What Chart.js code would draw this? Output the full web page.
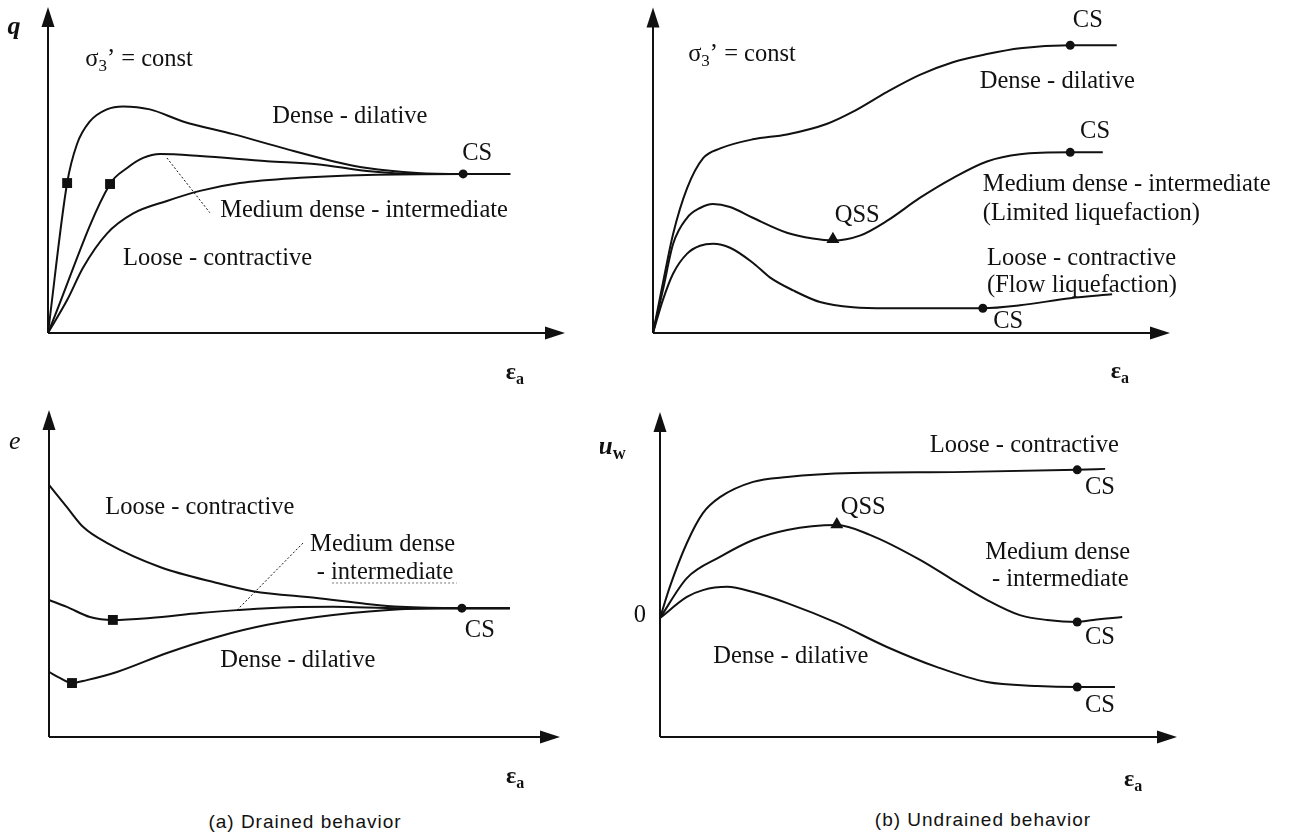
<!DOCTYPE html>
<html>
<head>
<meta charset="utf-8">
<script src="https://cdn.jsdelivr.net/npm/chart.js@4.4.1/dist/chart.umd.min.js"></script>
<style>
  body { margin: 0; background: #fff; width: 1290px; height: 840px; position: relative; overflow: hidden; }
  .panel { position: absolute; }
  .caption { position: absolute; font: 19px "Liberation Sans", Arial, sans-serif; letter-spacing: 1px; color: #111;
             transform: translate(-50%, -50%); white-space: nowrap; }
</style>
</head>
<body>
<div class="panel" style="left:0;top:0"><canvas id="drained-q" width="620" height="395"></canvas></div>
<div class="panel" style="left:620px;top:0"><canvas id="undrained-q" width="670" height="395"></canvas></div>
<div class="panel" style="left:0;top:400px"><canvas id="drained-e" width="620" height="395"></canvas></div>
<div class="panel" style="left:600px;top:400px"><canvas id="undrained-u" width="690" height="395"></canvas></div>
<div class="caption" style="left:305px;top:822px">(a) Drained behavior</div>
<div class="caption" style="left:983px;top:820px">(b) Undrained behavior</div>

<script>
// Schematic values, axial strain 0-100 (x) vs. response 0-100 (y)

// (a) drained: deviator stress q
const drainedQDense = [[0,0],[3.7,46.0],[5.6,57.9],[8.1,64.9],[11.4,68.6],[14.5,69.5],[19.7,68.6],[26.1,64.9],
  [35.8,61.0],[45.5,56.7],[55.1,52.7],[61.7,50.6],[71.4,49.1],[80.3,48.8],[89.4,48.8]];
const drainedQMedium = [[0,0],[12.0,45.7],[15.3,50.6],[18.4,53.7],[21.7,54.9],[29.4,54.3],[42.4,52.7],[52.0,51.8],
  [61.7,49.7],[71.4,48.8],[80.3,48.8],[89.4,48.8]];
const drainedQLoose = [[0,0],[3.7,10.1],[6.8,20.1],[11.4,30.5],[16.4,36.6],[23.0,40.5],[29.4,43.6],[37.1,46.0],
  [48.7,47.6],[61.7,48.5],[80.3,48.8],[89.4,48.8]];
const drainedQPeaks = [[3.7,46.0],[12.0,45.7]];
const drainedQCS = [[80.3,48.8]];
const drainedQLeader = [[23.0,53.7],[31.3,36.9]];

// (b) undrained: deviator stress q
const undrainedQDense = [[0,0],[1.9,15.2],[3.9,30.5],[6.6,44.5],[9.7,53.7],[13.0,56.7],[19.3,59.5],[25.9,61.0],
  [33.7,64.3],[38.7,68.0],[45.3,74.1],[51.6,79.3],[58.0,83.2],[64.6,85.7],[71.0,87.5],[80.7,88.4],[89.7,88.4]];
const undrainedQMedium = [[0,0],[1.9,13.1],[3.9,27.4],[6.6,35.4],[9.1,38.4],[11.6,39.6],[14.9,38.7],[19.3,35.4],
  [25.9,30.8],[30.9,29.0],[34.8,28.4],[40.0,29.9],[45.3,34.5],[51.6,41.5],[58.0,47.6],[64.6,52.7],[71.0,54.9],
  [80.7,55.5],[87.0,55.5]];
const undrainedQLoose = [[0,0],[1.9,10.1],[3.9,18.3],[6.6,24.4],[9.1,26.8],[11.6,27.4],[14.9,26.2],[19.3,21.6],
  [22.6,17.1],[27.1,13.1],[32.3,9.5],[38.7,7.9],[45.3,7.6],[63.8,7.6],[71.0,8.5],[80.7,10.7],[88.8,11.9]];
const undrainedQCS = [[80.7,88.4],[80.7,55.5],[63.8,7.6]];
const undrainedQQSS = [[34.8,28.8]];

// (a) drained: void ratio e
const drainedELoose = [[0,77.1],[3.5,70.3],[6.7,64.2],[11.4,59.3],[21.7,52.0],[32.9,47.1],[39.9,44.6],[52.4,42.5],
  [62.2,40.7],[68.7,39.8],[80.8,39.4],[90.2,39.4]];
const drainedEMedium = [[0,41.9],[3.5,39.8],[8.0,36.7],[12.5,35.8],[19.8,36.4],[29.5,37.9],[36.8,38.8],[42.7,39.4],
  [55.6,39.8],[68.7,39.4],[80.8,39.4],[90.2,39.4]];
const drainedEDense = [[0,19.9],[2.2,18.0],[4.5,16.5],[7.4,17.4],[13.3,19.9],[23.1,25.7],[32.9,30.6],[42.7,34.3],
  [55.6,37.3],[68.7,39.1],[80.8,39.4],[90.2,39.4]];
const drainedEPeaks = [[4.5,16.5],[12.5,35.8]];
const drainedECS = [[80.8,39.4]];
const drainedELeader = [[36.8,38.8],[49.7,59.3]];
const drainedEUnderline = [[55.4,47.1],[79.8,47.1]];

// (b) undrained: pore pressure uw (zero line at 36.6)
const undrainedULoose = [[0,36.6],[1.9,46.2],[5.2,59.7],[8.3,68.9],[11.6,73.8],[18.0,78.5],[24.6,80.0],[37.3,81.2],
  [56.7,81.5],[80.7,82.2],[86.1,82.5]];
const undrainedUMedium = [[0,36.6],[5.2,48.9],[11.6,55.4],[18.0,60.6],[24.6,63.7],[34.2,65.2],[40.6,62.2],[50.3,54.5],
  [56.7,48.3],[63.2,42.2],[69.6,37.5],[74.9,36.0],[80.7,35.4],[83.8,36.0],[89.4,36.9]];
const undrainedUDense = [[0,36.6],[5.2,43.1],[8.3,45.2],[13.0,46.2],[18.0,44.6],[24.6,41.2],[34.2,35.1],[43.9,27.7],
  [53.6,21.5],[63.2,16.9],[72.9,15.7],[80.7,15.4],[88.0,15.4]];
const undrainedUCS = [[80.7,82.2],[80.7,35.4],[80.7,15.4]];
const undrainedUQSS = [[34.2,65.4]];

const INK = '#111';
const SERIF = '"Liberation Serif", "Times New Roman", serif';

function toXY(pts) {
  return pts.map(([x, y]) => ({ x, y }));
}

function curve(pts) {
  return { data: toXY(pts), showLine: true, borderColor: INK, borderWidth: 2, pointRadius: 0,
           cubicInterpolationMode: 'monotone', order: 2, clip: false };
}

function dotted(pts, width, color) {
  return { data: toXY(pts), showLine: true, borderColor: color || INK, borderWidth: width || 1,
           borderDash: [2, 2], pointRadius: 0, order: 3, clip: false };
}

function marks(pts, style, radius) {
  return { data: toXY(pts), showLine: false, pointStyle: style, pointRadius: radius,
           pointBackgroundColor: INK, pointBorderColor: INK, pointBorderWidth: 0, order: 1, clip: false };
}

// axes with arrow heads along the chart area
const arrowAxes = {
  id: 'arrowAxes',
  beforeDatasetsDraw(chart) {
    const { ctx, chartArea: a } = chart;
    ctx.save();
    ctx.strokeStyle = INK;
    ctx.fillStyle = INK;
    ctx.lineWidth = 2;
    ctx.beginPath();
    ctx.moveTo(a.left, a.bottom);
    ctx.lineTo(a.left, a.top + 16);
    ctx.moveTo(a.left, a.bottom);
    ctx.lineTo(a.right - 16, a.bottom);
    ctx.stroke();
    ctx.beginPath();
    ctx.moveTo(a.left, a.top);
    ctx.lineTo(a.left - 6.5, a.top + 20);
    ctx.lineTo(a.left + 6.5, a.top + 20);
    ctx.closePath();
    ctx.fill();
    ctx.beginPath();
    ctx.moveTo(a.right, a.bottom);
    ctx.lineTo(a.right - 20, a.bottom - 6.5);
    ctx.lineTo(a.right - 20, a.bottom + 6.5);
    ctx.closePath();
    ctx.fill();
    ctx.restore();
  }
};

// text like 'σ_3' -> '_' makes the next character a subscript
function drawRich(ctx, text, x, y, align, style) {
  const size = style.size || 24.5;
  const main = `${style.italic ? 'italic ' : ''}${style.bold ? 'bold ' : ''}${size}px ${SERIF}`;
  const sub = `${style.bold ? 'bold ' : ''}${Math.round(size * 0.68)}px ${SERIF}`;
  const segs = [];
  for (let i = 0; i < text.length; i++) {
    if (text[i] === '_') {
      segs.push({ t: text[i + 1], sub: true });
      i++;
    } else if (segs.length && !segs[segs.length - 1].sub) {
      segs[segs.length - 1].t += text[i];
    } else {
      segs.push({ t: text[i], sub: false });
    }
  }
  let total = 0;
  segs.forEach(s => {
    ctx.font = s.sub ? sub : main;
    s.w = ctx.measureText(s.t).width;
    total += s.w;
  });
  let cx = align === 'left' ? x : x - total / 2;
  ctx.textBaseline = 'middle';
  ctx.textAlign = 'left';
  segs.forEach(s => {
    ctx.font = s.sub ? sub : main;
    ctx.fillText(s.t, cx, s.sub ? y + size * 0.28 : y);
    cx += s.w;
  });
}

function notes(items) {
  return {
    id: 'notes',
    afterDraw(chart) {
      const { ctx, scales } = chart;
      ctx.save();
      ctx.fillStyle = INK;
      items.forEach(n => {
        drawRich(ctx, n.text, scales.x.getPixelForValue(n.x), scales.y.getPixelForValue(n.y),
                 n.align || 'center', n.style || {});
      });
      ctx.restore();
    }
  };
}

function makeChart(id, datasets, pad, items) {
  return new Chart(document.getElementById(id), {
    type: 'scatter',
    data: { datasets },
    options: {
      responsive: false,
      animation: false,
      devicePixelRatio: 1,
      events: [],
      layout: { padding: pad },
      plugins: { legend: { display: false }, tooltip: { enabled: false } },
      scales: {
        x: { type: 'linear', display: false, min: 0, max: 100 },
        y: { type: 'linear', display: false, min: 0, max: 100 }
      }
    },
    plugins: [arrowAxes, notes(items)]
  });
}

const axisFont = { size: 26, italic: true, bold: true };
const strainFont = { size: 24, bold: true };

makeChart('drained-q', [
  marks(drainedQPeaks, 'rect', 7),
  marks(drainedQCS, 'circle', 4.5),
  curve(drainedQDense),
  curve(drainedQMedium),
  curve(drainedQLoose),
  dotted(drainedQLeader)
], { left: 48, top: 5, right: 55, bottom: 62 }, [
  { text: 'q', x: -6.6, y: 93.9, style: axisFont },
  { text: 'σ_3’ = const', x: 7.2, y: 83.8, align: 'left' },
  { text: 'Dense - dilative', x: 58.4, y: 66.5 },
  { text: 'CS', x: 83.0, y: 54.9 },
  { text: 'Medium dense - intermediate', x: 33.3, y: 37.5, align: 'left' },
  { text: 'Loose - contractive', x: 14.5, y: 22.9, align: 'left' },
  { text: 'ε_a', x: 90.3, y: -12.2, style: strainFont }
]);

makeChart('undrained-q', [
  marks(undrainedQCS, 'circle', 4.5),
  marks(undrainedQQSS, 'triangle', 7.5),
  curve(undrainedQDense),
  curve(undrainedQMedium),
  curve(undrainedQLoose)
], { left: 33, top: 5, right: 120, bottom: 62 }, [
  { text: 'σ_3’ = const', x: 6.8, y: 85.4, align: 'left' },
  { text: 'CS', x: 84.1, y: 96.0 },
  { text: 'Dense - dilative', x: 63.2, y: 77.1, align: 'left' },
  { text: 'CS', x: 85.5, y: 61.9 },
  { text: 'Medium dense - intermediate', x: 63.8, y: 45.7, align: 'left' },
  { text: '(Limited liquefaction)', x: 63.8, y: 36.6, align: 'left' },
  { text: 'QSS', x: 39.5, y: 36.0 },
  { text: 'Loose - contractive', x: 64.6, y: 22.9, align: 'left' },
  { text: '(Flow liquefaction)', x: 64.6, y: 14.6, align: 'left' },
  { text: 'CS', x: 68.7, y: 3.4 },
  { text: 'ε_a', x: 90.3, y: -11.9, style: strainFont }
]);

makeChart('drained-e', [
  marks(drainedEPeaks, 'rect', 7),
  marks(drainedECS, 'circle', 4.5),
  curve(drainedELoose),
  curve(drainedEMedium),
  curve(drainedEDense),
  dotted(drainedELeader),
  dotted(drainedEUnderline, 1, '#777')
], { left: 49, top: 10, right: 60, bottom: 58 }, [
  { text: 'e', x: -6.7, y: 90.2, style: { size: 26, italic: true } },
  { text: 'Loose - contractive', x: 11.0, y: 70.3, align: 'left' },
  { text: 'Medium dense', x: 51.1, y: 58.7, align: 'left' },
  { text: '- intermediate', x: 52.4, y: 50.2, align: 'left' },
  { text: 'CS', x: 84.3, y: 32.7 },
  { text: 'Dense - dilative', x: 33.5, y: 23.5, align: 'left' },
  { text: 'ε_a', x: 91.2, y: -12.2, style: strainFont }
]);

makeChart('undrained-u', [
  marks(undrainedUCS, 'circle', 4.5),
  marks(undrainedUQSS, 'triangle', 7.5),
  curve(undrainedULoose),
  curve(undrainedUMedium),
  curve(undrainedUDense)
], { left: 60, top: 12, right: 113, bottom: 58 }, [
  { text: 'u_w', x: -9.3, y: 89.2, style: axisFont },
  { text: '0', x: -3.9, y: 37.5 },
  { text: 'Loose - contractive', x: 52.2, y: 89.8, align: 'left' },
  { text: 'CS', x: 85.1, y: 76.6 },
  { text: 'QSS', x: 39.3, y: 70.5 },
  { text: 'Medium dense', x: 62.9, y: 56.9, align: 'left' },
  { text: '- intermediate', x: 64.2, y: 48.3, align: 'left' },
  { text: 'CS', x: 85.1, y: 30.5 },
  { text: 'Dense - dilative', x: 10.3, y: 24.6, align: 'left' },
  { text: 'CS', x: 85.1, y: 9.8 },
  { text: 'ε_a', x: 91.5, y: -13.2, style: strainFont }
]);
</script>
</body>
</html>
